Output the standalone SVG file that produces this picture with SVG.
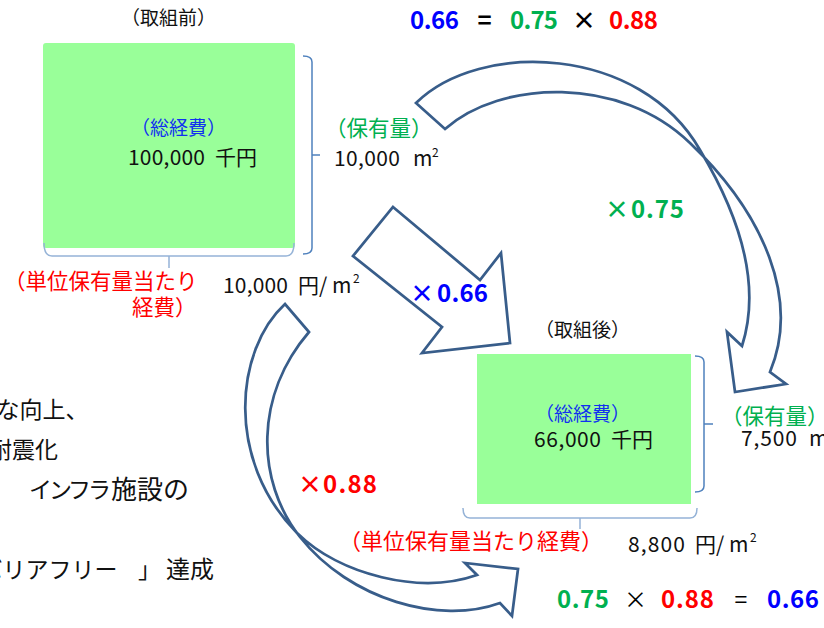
<svg xmlns="http://www.w3.org/2000/svg" width="824" height="628" viewBox="0 0 824 628">
<style>
text{font-family:"Noto Sans CJK JP","Noto Sans",sans-serif;fill:#111}
.s19{font-size:19px}.s21{font-size:21px}.s215{font-size:21.5px}.s22{font-size:22px}.s23{font-size:23px}.s24{font-size:24px}.s26{font-size:26px}.sup{font-size:12px}
.b{font-weight:bold;font-size:24px}
.blue{fill:#0000FF}.lblue{fill:#1030F0}.green{fill:#00B050}.red{fill:#FF0000}.blk{fill:#000}
.box{fill:#99FF99}
.brace{fill:none;stroke:#4F81BD;stroke-width:1.5}
.brace2{fill:none;stroke:#95B3D7;stroke-width:1.5}
.arrow{fill:none;stroke:#385D8A;stroke-width:2.75;stroke-linejoin:miter}
</style>
<rect width="824" height="628" fill="#fff"/>

<g id="side-text">
<text class="s23" x="-3.5" y="418">な向上、</text>
<text class="s23" x="-11" y="458">耐震化</text>
<text class="s23" x="29" y="498" textLength="82" lengthAdjust="spacing">インフラ</text>
<text class="s26" x="111" y="499">施設の</text>
<text class="s23" x="-20.5" y="578">バリアフリー</text>
<text class="s23" x="138" y="578">」</text>
<text class="s24" x="166" y="578">達成</text>
</g>

<g id="top-equation">
<text class="b blue" x="410" y="29" textLength="49" lengthAdjust="spacing">0.66</text>
<text class="b blk" x="484.5" y="29" text-anchor="middle">=</text>
<text class="b green" x="510" y="29" textLength="48" lengthAdjust="spacing">0.75</text>
<text class="b blk" x="584" y="29" text-anchor="middle">×</text>
<text class="b red" x="609" y="29" textLength="49" lengthAdjust="spacing">0.88</text>
</g>

<g id="before">
<text class="s19" x="121" y="25">（取組前）</text>
<rect class="box" x="43" y="43" width="252" height="205" rx="3"/>
<text class="s19 lblue" x="131" y="135">（総経費）</text>
<text class="s21" x="128" y="165" textLength="77" lengthAdjust="spacing">100,000</text>
<text class="s21" x="215" y="165">千円</text>
<path class="brace" d="M303,56 Q312,56 312,62 V248 Q312,254 303,254 M312,155 H320"/>
<text class="s215 green" x="325" y="136">（保有量）</text>
<text class="s21" x="334" y="166" textLength="66" lengthAdjust="spacing">10,000</text>
<text class="s21" x="413" y="166">m</text>
<text class="sup" x="432" y="157">2</text>
<path class="brace2" d="M44,243 Q44,256 52,256 H286 Q294,256 294,243 M169,256 V268"/>
<text class="s215 red" x="4" y="289">（単位保有量当たり</text>
<text class="s215 red" x="132" y="315">経費）</text>
<text class="s21" x="223" y="293" textLength="65" lengthAdjust="spacing">10,000</text>
<text class="s21" x="298" y="293">円</text>
<text class="s21" x="319" y="293">/</text>
<text class="s21" x="332" y="293">m</text>
<text class="sup" x="353" y="283">2</text>
</g>

<g id="after">
<text class="s19" x="535" y="337">（取組後）</text>
<rect class="box" x="477" y="354" width="214" height="150"/>
<text class="s19 lblue" x="535" y="421">（総経費）</text>
<text class="s21" x="534" y="447" textLength="67" lengthAdjust="spacing">66,000</text>
<text class="s21" x="611" y="447">千円</text>
<path class="brace" d="M695,356 Q704,356 704,362 V486 Q704,492 695,492 M704,424 H713"/>
<text class="s215 green" x="721" y="424">（保有量）</text>
<text class="s21" x="741" y="446" textLength="56" lengthAdjust="spacing">7,500</text>
<text class="s21" x="809" y="446">m</text>
<path class="brace2" d="M463,508 Q463,518 470,518 H690 Q697,518 697,508 M580,518 V529"/>
<text class="s22 red" x="339" y="549">（単位保有量当たり経費）</text>
<text class="s21" x="628" y="552" textLength="57" lengthAdjust="spacing">8,800</text>
<text class="s21" x="695" y="552">円</text>
<text class="s21" x="716" y="552">/</text>
<text class="s21" x="729" y="552">m</text>
<text class="sup" x="750" y="542">2</text>
</g>

<g id="bottom-equation">
<text class="b green" x="557" y="608" textLength="52" lengthAdjust="spacing">0.75</text>
<text class="s23 blk" x="635.5" y="608" text-anchor="middle">×</text>
<text class="b red" x="661" y="608" textLength="53" lengthAdjust="spacing">0.88</text>
<text class="s23 blk" x="741" y="608" text-anchor="middle">=</text>
<text class="b blue" x="767" y="608" textLength="52" lengthAdjust="spacing">0.66</text>
</g>

<g id="connectors">
<path class="arrow" d="M393,207 L480,280 L501,253 L510,343 L422,353 L442,327 L353,256 Z"/>
<path class="arrow" d="M416,103 C480,40 640,45 700,150 C745,225 760,290 742,346 L727,332 L735,392 L786,384 L770,372 C800,300 765,215 690,143 C620,75 500,80 445,129 Z"/>
<path class="arrow" d="M285,304 C235,350 225,460 297,533 C340,575 420,595 477,575 L465,563 L518,569 L512,616 L500,603 C440,625 350,600 300,537 C255,480 255,395 309,332 Z"/>
</g>

<g id="multipliers">
<text class="b green" x="617" y="218" text-anchor="middle">×</text>
<text class="b green" x="631" y="218" textLength="53" lengthAdjust="spacing">0.75</text>
<text class="b blue" x="422" y="302" text-anchor="middle">×</text>
<text class="b blue" x="437" y="302" textLength="51" lengthAdjust="spacing">0.66</text>
<text class="b red" x="310" y="493" text-anchor="middle">×</text>
<text class="b red" x="323" y="493" textLength="54" lengthAdjust="spacing">0.88</text>
</g>
</svg>
